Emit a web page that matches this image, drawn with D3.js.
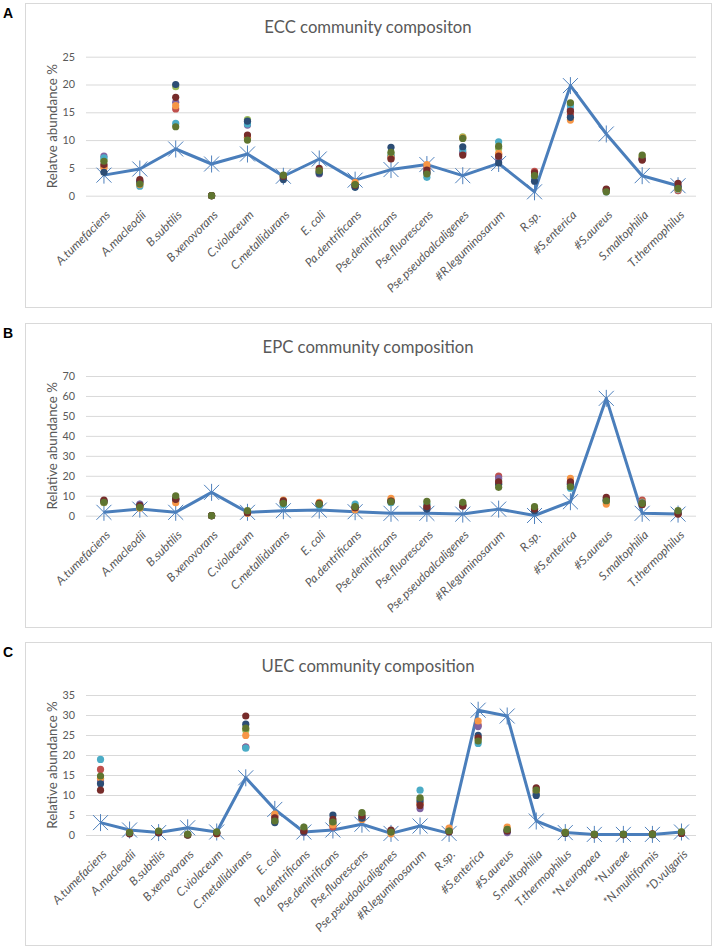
<!DOCTYPE html>
<html>
<head>
<meta charset="utf-8">
<script src="https://cdn.jsdelivr.net/npm/d3@7"></script>
<style>
  html, body { margin: 0; padding: 0; background: #fff; }
  svg { display: block; }
</style>
</head>
<body>
<svg id="chart" width="715" height="950"></svg>
<script>
// ---------- DATA ----------
const catsAB = ["A.tumefaciens","A.macleodii","B.subtilis","B.xenovorans","C.violaceum","C.metallidurans","E. coli","Pa.dentrificans","Pse.denitrificans","Pse.fluorescens","Pse.pseudoalcaligenes","#R.leguminosarum","R.sp.","#S.enterica","#S.aureus","S.maltophilia","T.thermophilus"];
const catsC = ["A.tumefaciens","A.macleodii","B.subtilis","B.xenovorans","C.violaceum","C.metallidurans","E. coli","Pa.dentrificans","Pse.denitrificans","Pse.fluorescens","Pse.pseudoalcaligenes","#R.leguminosarum","R.sp.","#S.enterica","#S.aureus","S.maltophilia","T.thermophilus","*N.europaea","*N.ureae","*N.multiformis","*D.vulgaris"];

const ticksA = [0, 5, 10, 15, 20, 25];
const ticksB = [0, 10, 20, 30, 40, 50, 60, 70];
const ticksC = [0, 5, 10, 15, 20, 25, 30, 35];

// expected (theoretical) composition, line + star markers
const eccExpected = [3.7, 4.8, 8.4, 5.7, 7.5, 3.5, 6.6, 2.8, 4.7, 5.6, 3.6, 5.8, 0.7, 19.8, 11.1, 3.6, 1.8];
const epcExpected = [1.7, 3.3, 1.7, 11.7, 1.7, 2.5, 2.8, 2.0, 1.2, 1.2, 0.8, 3.3, 0.1, 7.0, 58.8, 1.2, 0.8];
const uecExpected = [3.1, 1.25, 0.6, 1.8, 0.75, 14.3, 6.4, 0.75, 1.25, 2.7, 0.4, 2.25, 0.4, 31.2, 29.75, 3.5, 0.6, 0.15, 0.15, 0.15, 0.75];

// replicate measurements (8 per community)
const eccRep1 = [5.3, 2.5, 15.6, 0, 10.5, 3.3, 4.3, 1.8, 7.0, 5.0, 7.8, 7.4, 4.4, 14.6, 1.0, 6.8, 0.9];
const eccRep2 = [6.4, 2.2, 19.6, 0, 13.7, 3.6, 4.2, 2.1, 7.5, 4.3, 10.6, 8.5, 3.2, 16.5, 0.9, 7.1, 1.4];
const eccRep3 = [7.1, 2.4, 16.8, 0, 12.7, 3.2, 3.9, 1.7, 6.9, 4.0, 7.6, 6.6, 3.0, 15.5, 0.8, 6.5, 1.6];
const eccRep4 = [6.8, 1.7, 13.0, 0, 12.9, 3.4, 4.4, 1.6, 7.2, 3.3, 8.2, 9.7, 3.4, 16.2, 0.7, 6.6, 1.1];
const eccRep5 = [5.0, 2.0, 16.2, 0, 10.3, 3.1, 4.6, 2.4, 6.8, 5.6, 10.4, 7.6, 3.9, 13.6, 0.9, 6.7, 1.2];
const eccRep6 = [4.2, 2.6, 20.0, 0, 13.4, 2.9, 4.1, 1.5, 8.7, 4.2, 8.8, 5.9, 2.6, 14.1, 1.1, 6.6, 1.7];
const eccRep7 = [5.6, 2.9, 17.7, 0, 10.9, 3.5, 4.9, 1.9, 6.6, 4.6, 7.3, 7.1, 4.1, 15.2, 1.2, 6.4, 2.2];
const eccRep8 = [6.2, 2.1, 12.4, 0, 10.0, 3.7, 4.5, 2.0, 7.8, 3.9, 10.3, 8.9, 3.6, 16.7, 0.7, 7.3, 1.3];

const epcRep1 = [7.0, 4.5, 8.5, 0, 1.5, 7.0, 6.0, 4.0, 7.5, 4.0, 5.5, 19.8, 3.5, 16.5, 8.0, 7.8, 1.5];
const epcRep2 = [6.5, 4.0, 9.0, 0, 2.0, 6.5, 5.5, 5.0, 8.0, 6.0, 6.0, 17.5, 3.8, 15.0, 7.0, 6.8, 2.0];
const epcRep3 = [7.5, 5.8, 7.5, 0, 1.8, 6.8, 5.2, 4.2, 7.0, 3.5, 5.0, 18.7, 3.0, 16.0, 8.5, 6.5, 1.2];
const epcRep4 = [6.8, 4.2, 8.0, 0, 2.2, 5.5, 5.0, 5.8, 6.5, 5.5, 5.5, 16.0, 3.5, 13.8, 7.2, 6.0, 1.8];
const epcRep5 = [6.8, 3.8, 6.5, 0, 1.2, 7.8, 6.7, 3.0, 8.7, 3.8, 5.2, 16.5, 2.8, 18.7, 5.8, 5.8, 1.0];
const epcRep6 = [7.2, 5.2, 8.5, 0, 1.6, 6.8, 5.8, 4.0, 7.2, 3.3, 5.0, 15.8, 2.5, 15.8, 7.8, 6.2, 1.2];
const epcRep7 = [7.8, 5.0, 8.2, 0, 1.5, 7.5, 6.2, 4.0, 7.3, 4.5, 4.8, 17.0, 3.3, 17.0, 9.2, 5.5, 0.8];
const epcRep8 = [6.7, 4.2, 10.0, 0, 2.5, 6.2, 5.8, 4.5, 7.0, 7.2, 6.7, 14.2, 4.5, 14.5, 7.5, 6.2, 2.5];

const uecRep1 = [16.4, 0.6, 0.8, 0, 0.5, 22.0, 4.7, 1.2, 2.0, 4.5, 0.8, 7.8, 1.2, 27.5, 1.3, 11.5, 0.6, 0.1, 0.1, 0.2, 0.6];
const uecRep2 = [14.0, 0.5, 0.9, 0, 0.6, 26.2, 3.8, 1.6, 3.0, 5.2, 1.0, 9.0, 1.0, 24.0, 1.2, 10.8, 0.7, 0.1, 0.1, 0.1, 0.7];
const uecRep3 = [13.5, 0.4, 0.6, 0, 0.4, 22.0, 3.6, 0.6, 3.2, 4.0, 0.9, 6.6, 0.8, 27.1, 0.6, 10.5, 0.5, 0.1, 0.1, 0.1, 0.4];
const uecRep4 = [18.9, 0.5, 0.7, 0, 0.5, 21.7, 3.3, 1.4, 2.8, 4.4, 0.6, 11.2, 1.1, 22.9, 1.1, 10.2, 0.5, 0.1, 0.1, 0.1, 0.6];
const uecRep5 = [14.2, 0.6, 0.8, 0, 0.3, 24.9, 5.2, 1.1, 2.5, 3.9, 0.3, 8.0, 1.7, 28.5, 2.0, 10.8, 0.6, 0.1, 0.1, 0.1, 0.5];
const uecRep6 = [12.8, 0.5, 0.5, 0, 0.5, 27.7, 3.1, 0.8, 5.0, 4.2, 0.8, 8.5, 0.9, 24.9, 1.0, 9.9, 0.4, 0.1, 0.1, 0.1, 0.5];
const uecRep7 = [11.2, 0.3, 0.6, 0, 0.4, 29.75, 4.3, 1.0, 3.9, 4.8, 1.25, 7.4, 0.8, 24.3, 1.0, 11.8, 0.5, 0.1, 0.1, 0.3, 0.4];
const uecRep8 = [14.75, 0.6, 1.0, 0.2, 0.8, 26.7, 3.5, 2.0, 3.25, 5.6, 0.75, 9.3, 1.0, 23.5, 1.4, 11.2, 0.6, 0.2, 0.2, 0.2, 0.8];

const repColors = ["#c0504d", "#9bbb59", "#8064a2", "#4bacc6", "#f79646", "#2c4d75", "#772c2a", "#5f7530"];

// ---------- DRAW ----------
const svg = d3.select("#chart");
const FONT = "Lato, 'Open Sans', sans-serif";
const GREY = "#595959";

const panels = [
  { letter: "A", title: "ECC community compositon", ytitle: "Relatve abundance %",
    cats: catsAB, ticks: ticksA, expected: eccExpected,
    reps: [eccRep1, eccRep2, eccRep3, eccRep4, eccRep5, eccRep6, eccRep7, eccRep8],
    box: [25, 3, 711, 307], yTop: 56.7, yZero: 195.7 },
  { letter: "B", title: "EPC community composition", ytitle: "Relative abundance %",
    cats: catsAB, ticks: ticksB, expected: epcExpected,
    reps: [epcRep1, epcRep2, epcRep3, epcRep4, epcRep5, epcRep6, epcRep7, epcRep8],
    box: [25, 323, 711, 627], yTop: 376, yZero: 515.7 },
  { letter: "C", title: "UEC community composition", ytitle: "Relative abundance %",
    cats: catsC, ticks: ticksC, expected: uecExpected,
    reps: [uecRep1, uecRep2, uecRep3, uecRep4, uecRep5, uecRep6, uecRep7, uecRep8],
    box: [25, 642, 711, 945], yTop: 695, yZero: 835 }
];

const plotLeft = 86, plotRight = 696;

panels.forEach(p => {
  const g = svg.append("g");
  const [bx0, by0, bx1, by1] = p.box;

  g.append("rect")
    .attr("x", bx0 + 0.5).attr("y", by0 + 0.5)
    .attr("width", bx1 - bx0).attr("height", by1 - by0)
    .attr("fill", "#fff").attr("stroke", "#d9d9d9").attr("stroke-width", 1);

  g.append("text")
    .attr("x", 3).attr("y", by0 + 15.3)
    .attr("font-family", "'Liberation Sans', Arial, sans-serif")
    .attr("font-weight", "bold").attr("font-size", 14)
    .attr("fill", "#000").text(p.letter);

  g.append("text")
    .attr("x", 368).attr("y", by0 + 30.3)
    .attr("text-anchor", "middle")
    .attr("font-family", FONT).attr("font-size", 16.7)
    .attr("fill", GREY).text(p.title);

  const x = d3.scaleBand().domain(p.cats).range([plotLeft, plotRight]);
  const cx = d => x(d) + x.bandwidth() / 2;
  const y = d3.scaleLinear().domain([0, p.ticks[p.ticks.length - 1]]).range([p.yZero, p.yTop]);

  // grid + y labels
  const yAxis = g.append("g")
    .attr("transform", `translate(${plotLeft},0)`)
    .call(d3.axisLeft(y).tickValues(p.ticks).tickSize(-(plotRight - plotLeft)).tickPadding(11).tickFormat(d3.format("d")));
  yAxis.select(".domain").remove();
  yAxis.selectAll(".tick line").attr("stroke", "#d9d9d9").attr("stroke-width", 1);
  yAxis.selectAll(".tick text").attr("font-family", FONT).attr("font-size", 10.8).attr("fill", GREY);

  // y axis title
  g.append("text")
    .attr("transform", `translate(57,${(p.yTop + p.yZero) / 2}) rotate(-90)`)
    .attr("text-anchor", "middle")
    .attr("font-family", FONT).attr("font-size", 13.3)
    .attr("fill", GREY).text(p.ytitle);

  // x axis labels
  const xAxis = g.append("g")
    .attr("transform", `translate(0,${p.yZero})`)
    .call(d3.axisBottom(x).tickSize(0).tickPadding(0));
  xAxis.select(".domain").remove();
  xAxis.selectAll(".tick text")
    .attr("font-family", FONT).attr("font-size", 12).attr("font-style", "italic")
    .attr("fill", GREY)
    .attr("text-anchor", "end")
    .attr("dy", "0.35em")
    .attr("transform", "translate(4,17) rotate(-45)");

  // expected line
  const line = d3.line().x((d, i) => cx(p.cats[i])).y(d => y(d));
  g.append("path")
    .datum(p.expected)
    .attr("d", line)
    .attr("fill", "none").attr("stroke", "#4a7ebb").attr("stroke-width", 3)
    .attr("stroke-linejoin", "round");

  const s = 7.5;
  const starPath = `M${-s},${-s}L${s},${s}M${-s},${s}L${s},${-s}M0,${-s - 1}L0,${s + 1}`;
  g.selectAll(".star")
    .data(p.expected)
    .join("path")
    .attr("class", "star")
    .attr("transform", (d, i) => `translate(${cx(p.cats[i])},${y(d)})`)
    .attr("d", starPath)
    .attr("fill", "none").attr("stroke", "#4f81bd").attr("stroke-width", 1);

  // replicate dots
  p.reps.forEach((rep, k) => {
    g.selectAll(".dot" + k)
      .data(rep)
      .join("circle")
      .attr("class", "dot" + k)
      .attr("cx", (d, i) => cx(p.cats[i]))
      .attr("cy", d => y(d))
      .attr("r", 3.6)
      .attr("fill", repColors[k]);
  });
});
</script>
</body>
</html>
